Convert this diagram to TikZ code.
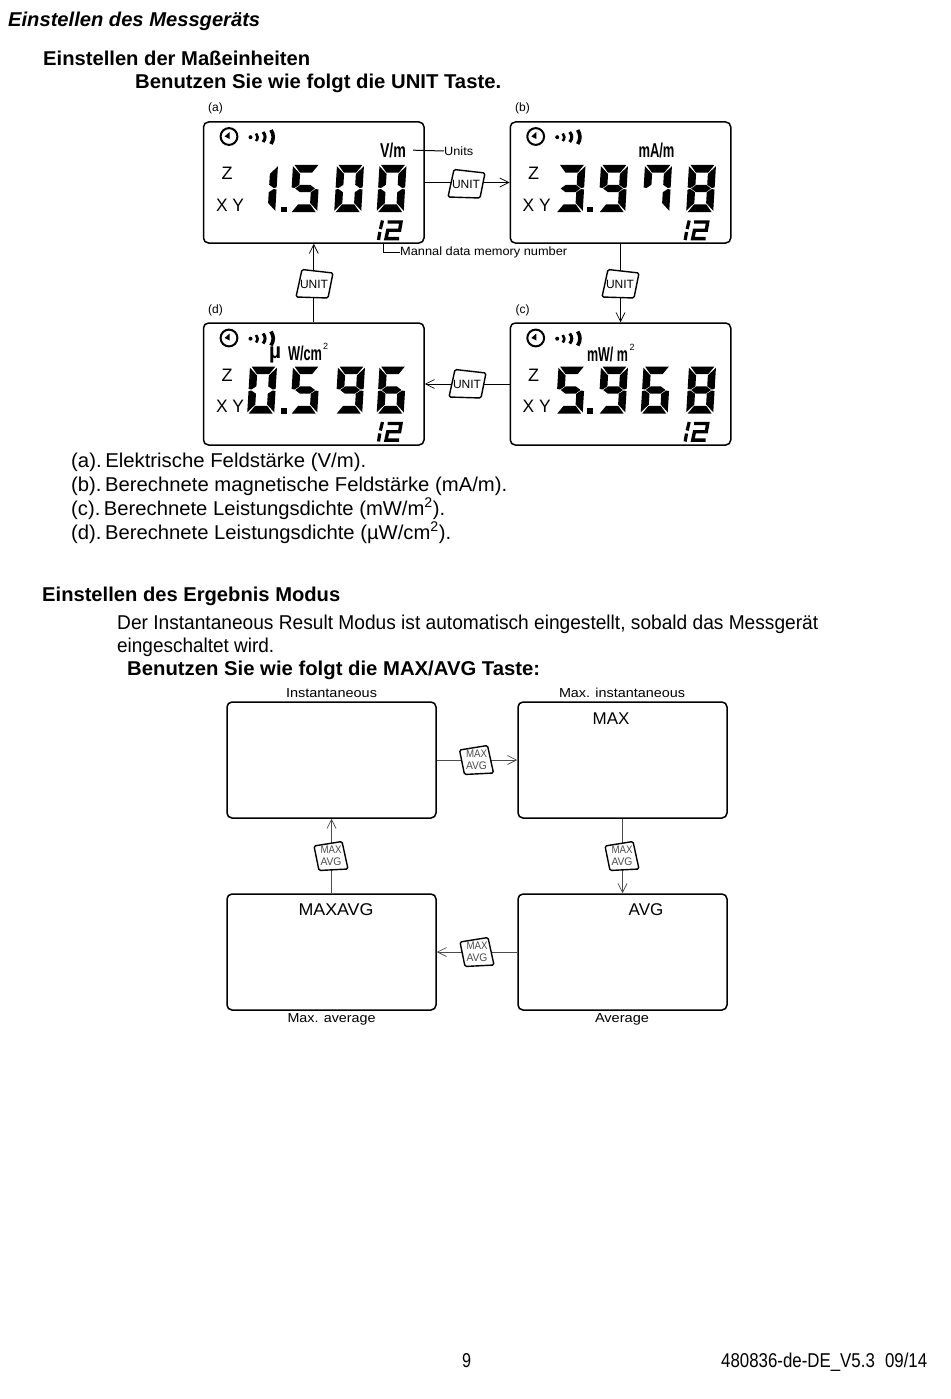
\documentclass[tikz,border=0pt]{standalone}
\usepackage{fontspec}
\setmainfont{Liberation Sans}
\usetikzlibrary{arrows.meta}
\newcommand{\fw}[2]{\resizebox{#1pt}{\height}{#2}}
\newcommand{\sq}[1]{\textsuperscript{#1}}
\def\dsega{\fill (1.6,0)--(25.4,0)--(19.6,7.6)--(7.4,7.6)--cycle;}
\def\dsegb{\fill (27,1.2)--(27,22.4)--(24.2,23)--(19.4,19.8)--(19.4,9)--cycle;}
\def\dsegc{\fill (27,24.6)--(27,45.8)--(19.4,38)--(19.4,27.2)--(24.2,24)--cycle;}
\def\dsegd{\fill (1.6,47)--(25.4,47)--(19.6,39.4)--(7.4,39.4)--cycle;}
\def\dsege{\fill (0,24.6)--(0,45.8)--(7.6,38)--(7.6,27.2)--(2.8,24)--cycle;}
\def\dsegf{\fill (0,1.2)--(0,22.4)--(2.8,23)--(7.6,19.8)--(7.6,9)--cycle;}
\def\dsegg{\fill (3.6,23.5)--(8.6,19.8)--(18.4,19.8)--(23.4,23.5)--(18.4,27.2)--(8.6,27.2)--cycle;}
% digit: x, y, xscale, yscale, segments
\newcommand{\dgt}[5]{\begin{scope}[shift={(#1,#2)},xscale=#3,yscale=#4,xslant=.06]
\foreach \s in {#5}{\csname dseg\s\endcsname}\end{scope}}
\newcommand{\bigd}[2]{\dgt{#1}{165}{1}{1}{#2}}
% small memory number
\newcommand{\memnum}{%
\draw[line width=3.2pt] (382.5,220.5) -- (380.4,229);
\draw[line width=3.2pt] (379.8,232) -- (378.5,240);
\draw[line width=3.4pt,line join=miter] (387.5,222) -- (401,222) -- (399.6,230.2) -- (387.8,230.2) -- (386,238.6) -- (399,238.6);
}
\newcommand{\pcontent}[3]{% prefix, dx, dy
\begin{scope}[shift={(#2,#3)}]
\draw[line width=2pt] (229,136.5) circle (8.4);
\fill (229.6,132)--(229.6,139)--(224.6,136.5)--cycle;
\fill (250.5,137.2) circle (2);
\draw[line width=2.6pt] (256,133.5) .. controls (258.2,135.5) and (258.2,138.5) .. (256,141);
\draw[line width=3pt] (263,132) .. controls (265.8,135) and (265.8,139) .. (263,142);
\draw[line width=3.6pt] (271,130) .. controls (274,134.5) and (274,139.5) .. (271,144);
\node[pt18] (#1z) at (227,173.5) {Z};
\node[pt18] (#1xy) at (230,205) {\fw{28}{X Y}};
\memnum
\end{scope}}
\newcommand{\unitkey}[3]{%
\filldraw[keyshape,shift={(#2,#3)}] (-12,-14.5)--(19,-11)--(14,14)--(-18,13)--cycle;
\node[keytext] (#1) at (#2,#3) {UNIT};}
\newcommand{\maxkey}[3]{%
\filldraw[keyshape,shift={(#2,#3)}] (-17,-10)--(11,-14.5)--(17,13)--(-12,14.5)--cycle;
\node[maxtext] (#1) at (#2,#3) {\fw{21}{MAX}\\\fw{21}{AVG}};}
\tikzset{
 panel/.style={draw,line width=1.5pt,rounded corners=5pt,inner sep=0pt,fill=white},
 pan/.style={panel,minimum width=220.5pt,minimum height=121pt},
 lowpan/.style={panel,minimum width=209pt,minimum height=116pt},
 conn/.style={line width=1pt,-{Straight Barb[length=9pt,width=9pt,line width=.7pt]}},
 lowconn/.style={conn,draw=black!70},
 keyshape/.style={draw=black,fill=white,line width=1.4pt,rounded corners=1.5pt},
 keytext/.style={font=\fontsize{12}{12}\selectfont,inner sep=0pt},
 maxtext/.style={font=\fontsize{11}{11.5}\selectfont,inner sep=0pt,align=center,text=black!70},
 pt18/.style={font=\fontsize{18}{18}\selectfont,inner sep=0pt},
 txt/.style={anchor=base west,inner sep=0pt,font=\fontsize{20}{20}\selectfont},
 htxt/.style={anchor=base west,inner sep=0pt,font=\fontsize{20}{20}\selectfont\bfseries},
 small/.style={inner sep=0pt,font=\fontsize{12}{12}\selectfont},
 lbl/.style={inner sep=0pt,font=\fontsize{17}{17}\selectfont},
 unitlbl/.style={inner sep=0pt,font=\fontsize{20}{20}\selectfont\bfseries},
}
\begin{document}
\begin{tikzpicture}[x=1pt,y=-1pt]
\useasboundingbox (0,0) rectangle (950,1399);
\fill[white] (0,0) rectangle (950,1399);
% headings
\node[htxt] (title) at (8,26.5) {\fw{252}{\itshape Einstellen des Messgeräts}};
\node[htxt] (h1) at (43,66) {\fw{267}{Einstellen der Maßeinheiten}};
\node[htxt] (h1b) at (135,89) {\fw{366}{Benutzen Sie wie folgt die UNIT Taste.}};
% panels
\node[pan] (pa) at (313.75,182.5) {};
\node[pan] (pb) at (620.5,182.5) {};
\node[pan,minimum height=122pt] (pc) at (620.5,384) {};
\node[pan,minimum height=122pt] (pd) at (313.75,384) {};
\node[small] (la) at (215.5,108) {(a)};
\node[small] (lb) at (522.5,108) {(b)};
\node[small] (lc) at (522.5,310) {(c)};
\node[small] (ld) at (215.5,310) {(d)};
\pcontent{a}{0}{0}
\pcontent{b}{306.7}{0}
\pcontent{c}{306.7}{201.5}
\pcontent{d}{0}{201.5}
% digits a
\dgt{251}{165}{1}{1}{b,c}
\fill (280.5,206.5) rectangle (286.5,212);
\bigd{293}{a,f,g,c,d}
\bigd{337}{a,b,c,d,e,f}
\bigd{379.5}{a,b,c,d,e,f}
% digits b
\bigd{558.5}{a,b,g,c,d}
\fill (587,206.5) rectangle (593,212);
\bigd{601}{a,b,f,g,c,d}
\bigd{645}{a,b,c,f}
\bigd{689}{a,b,c,d,e,f,g}
% digits c
\begin{scope}[shift={(0,201.5)}]
\bigd{558.5}{a,f,g,c,d}
\fill (587,206.5) rectangle (593,212);
\bigd{601}{a,b,f,g,c,d}
\bigd{643.5}{a,f,g,c,d,e}
\bigd{689}{a,b,c,d,e,f,g}
\end{scope}
% digits d
\begin{scope}[shift={(0,201.5)}]
\bigd{250}{a,b,c,d,e,f}
\fill (280.5,206.5) rectangle (286.5,212);
\bigd{293}{a,f,g,c,d}
\bigd{338}{a,b,f,g,c,d}
\bigd{379.5}{a,f,g,c,d,e}
\end{scope}
% unit labels
\node[unitlbl,anchor=center] (vm) at (393,150) {\fw{26}{V/m}};
\node[unitlbl] (mam) at (656.5,150) {\fw{36}{mA/m}};
\node[unitlbl] (mwm) at (607.5,354) {\fw{41}{mW/ m}};
\node[inner sep=0pt,font=\fontsize{9}{9}\selectfont] (mw2) at (632,347) {2};
\node[unitlbl,font=\fontsize{22}{22}\selectfont\bfseries] (mu) at (275,355) {\fw{12}{µ}};
\node[unitlbl] (wcm) at (305,353.5) {\fw{34}{W/cm}};
\node[inner sep=0pt,font=\fontsize{9}{9}\selectfont] (w2) at (325.5,346) {2};
% annotations
\node[small,anchor=west] (units) at (444,151) {\fw{29}{Units}};
\draw[line width=1pt,shorten <=7pt] (vm.east) -- (units.west);
\node[small,anchor=west] (memo) at (400,252) {\fw{167}{Mannal data memory number}};
\coordinate (memtop) at (383,230);
\draw[line width=.8pt] (pa.south -| memtop) |- (memo.west);
% connectors
\draw[conn] (pa.east) -- (pb.west);
\draw[conn] (pb.south) -- (pc.north);
\draw[conn] (pc.west) -- (pd.east);
\draw[conn] (pd.north) -- (pa.south);
\unitkey{k1}{466}{184}
\unitkey{k2}{620}{284}
\unitkey{k3}{467}{384}
\unitkey{k4}{314}{284}
% list
\node[txt] (t1) at (71,467) {\fw{295}{(a).\kern-2pt\ Elektrische Feldstärke (V/m).}};
\node[txt] (t2) at (71,491) {\fw{436}{(b).\kern-2pt\ Berechnete magnetische Feldstärke (mA/m).}};
\node[txt] (t3) at (71,515) {\fw{374}{(c).\kern-2pt\ Berechnete Leistungsdichte (mW/m\sq{2}).}};
\node[txt] (t4) at (71,539) {\fw{380}{(d).\kern-2pt\ Berechnete Leistungsdichte (µW/cm\sq{2}).}};
% second section
\node[htxt] (h2) at (42,601) {\fw{298}{Einstellen des Ergebnis Modus}};
\node[txt] (p1) at (117,629) {\fw{701}{Der Instantaneous Result Modus ist automatisch eingestellt, sobald das Messgerät}};
\node[txt] (p2) at (117,652) {\fw{157}{eingeschaltet wird.}};
\node[htxt] (h2b) at (127,675) {\fw{413}{Benutzen Sie wie folgt die MAX/AVG Taste:}};
% lower panels
\node[lowpan] (q1) at (331.5,760) {};
\node[lowpan] (q2) at (622.5,760) {};
\node[lowpan] (q3) at (622.5,952) {};
\node[lowpan] (q4) at (331.5,952) {};
\node[small,font=\fontsize{13}{13}\selectfont] (c1) at (331.5,693) {\fw{91}{Instantaneous}};
\node[small,font=\fontsize{13}{13}\selectfont] (c2) at (622,693) {\fw{126}{Max. instantaneous}};
\node[small,font=\fontsize{13}{13}\selectfont] (c3) at (622,1019.5) {\fw{54}{Average}};
\node[small,font=\fontsize{13}{13}\selectfont] (c4) at (331.5,1019.5) {\fw{88}{Max. average}};
\node[lbl] (m1) at (611,718.5) {MAX};
\node[lbl] (m2) at (646,910) {AVG};
\node[lbl] (m3) at (336,910) {\fw{75}{MAXAVG}};
\draw[lowconn] (q1.east) -- (q2.west);
\draw[lowconn] (q2.south) -- (q3.north);
\draw[lowconn] (q3.west) -- (q4.east);
\draw[lowconn] (q4.north) -- (q1.south);
\maxkey{j1}{476.5}{760}
\maxkey{j2}{622}{856}
\maxkey{j3}{477}{952}
\maxkey{j4}{331}{856}
% footer
\node[txt] (f1) at (462,1367) {\fw{9}{9}};
\node[txt] (f2) at (721,1367) {\fw{206}{480836-de-DE\_V5.3\hspace{.6em}09/14}};
\end{tikzpicture}
\end{document}
